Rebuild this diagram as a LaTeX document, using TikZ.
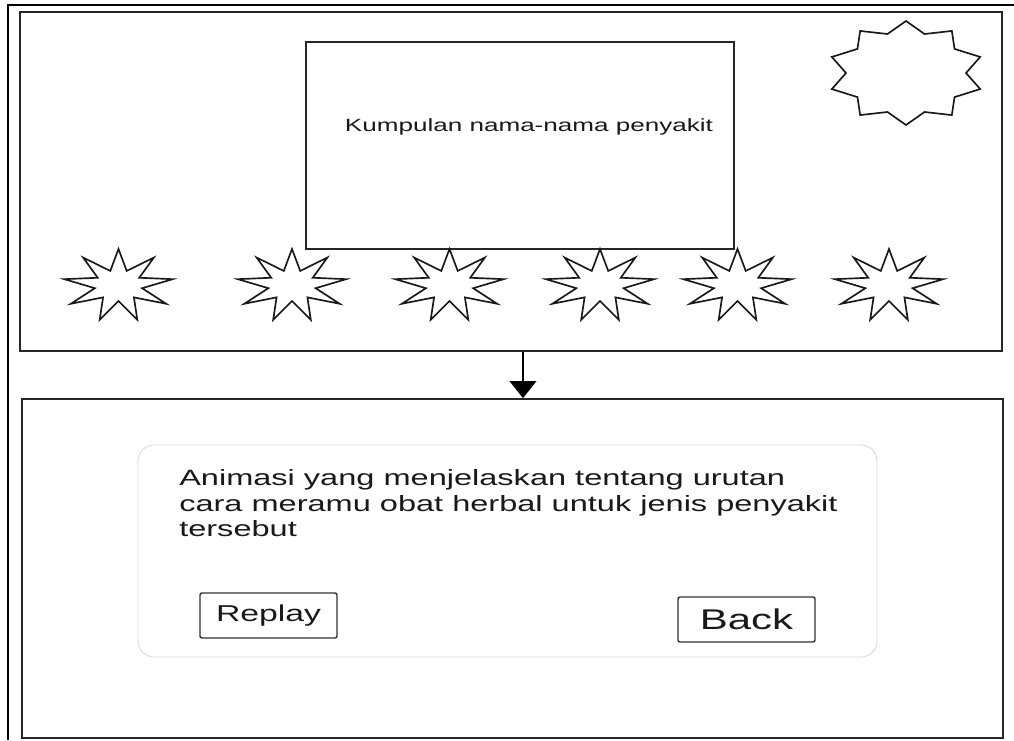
\documentclass[tikz,border=0pt]{standalone}
\usepackage{fontspec}
\setmainfont{Liberation Sans}
\newfontfamily\wf[FakeStretch=1.47]{Liberation Sans}
\usetikzlibrary{arrows.meta}
\tikzset{
  frameline/.style={draw=black, line width=1.2pt},
  boxline/.style={draw=black!85, line width=1.3pt, inner sep=0pt},
  burstline/.style={draw=black!90, line width=1.25pt, line join=miter},
  panel/.style={draw=black!14, line width=0.7pt, rounded corners=12pt, inner sep=0pt},
  button/.style={draw=black!80, line width=1.1pt, rounded corners=1.5pt, inner sep=0pt, text=black!90},
  arrowline/.style={draw=black, line width=1.2pt, -{Triangle[width=20pt,length=12.75pt]}},
  pics/burst/.style args={#1/#2/#3/#4/#5}{code={
    \draw[burstline] (0,{-#3})
      \foreach \k in {1,...,#1}{
        -- ({#4*cos(90+(\k-0.5)*360/#1)},{-#5*sin(90+(\k-0.5)*360/#1)})
        -- ({#2*cos(90+\k*360/#1)},{-#3*sin(90+\k*360/#1)})
      } -- cycle;
  }}
}
\begin{document}
\begin{tikzpicture}[x=0.75pt,y=-0.75pt]
\useasboundingbox (0,0) rectangle (1014,740);
\fill[white] (0,0) rectangle (1014,740);
% outer frame
\draw[frameline] (8,740) -- (8,5) -- (1014,5);
% top screen
\node[boxline, minimum width=736.5pt, minimum height=254.25pt] (topbox) at (511,181.5) {};
\node[boxline, minimum width=321pt, minimum height=155.25pt] (listbox) at (520,145.5) {};
\node[anchor=base, inner sep=0pt, text=black!90, font=\wf\fontsize{13.3pt}{16pt}\selectfont] (listtext) at (529,131) {Kumpulan nama-nama penyakit};
% big burst
\pic at (906,73) {burst=10/78/52/60/41};
% small stars
\foreach \cx in {118.5,292,449.5,600,737.5,889}{
  \pic at (\cx,285.5) {burst=9/55/36.5/24/15.5};
}
% bottom screen
\node[boxline, minimum width=735.75pt, minimum height=254.25pt] (bottombox) at (512.5,568.5) {};
\coordinate (ax) at (523,0);
\draw[arrowline] (topbox.south -| ax) -- (bottombox.north -| ax);
\node[panel, minimum width=554.25pt, minimum height=159pt] (panel) at (507.5,551) {};
\node[anchor=north west, inner sep=0pt, align=left, text=black!90, font=\wf\fontsize{16.6pt}{19.1pt}\selectfont] (desc) at (179,469.5)
  {Animasi yang menjelaskan tentang urutan\\cara meramu obat herbal untuk jenis penyakit\\tersebut};
\node[button, minimum width=102.75pt, minimum height=33.75pt, font=\wf\fontsize{17.2pt}{20pt}\selectfont] (replay) at (268.5,615.5) {Replay};
\node[button, minimum width=102.75pt, minimum height=33.75pt, font=\wf\fontsize{21.4pt}{25pt}\selectfont] (back) at (746.5,619.5) {Back};
\end{tikzpicture}
\end{document}
